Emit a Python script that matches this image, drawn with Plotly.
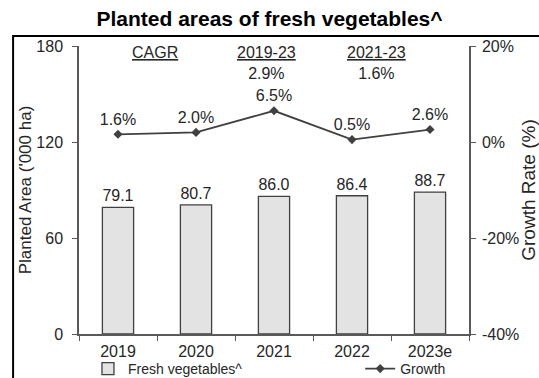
import plotly.graph_objects as go

# Planted area of fresh vegetables ('000 ha) and year-on-year growth
years = ["2019", "2020", "2021", "2022", "2023e"]
area = [79.1, 80.7, 86.0, 86.4, 88.7]
growth = [1.6, 2.0, 6.5, 0.5, 2.6]  # %

left_ticks = [0, 60, 120, 180]
right_ticks = [-40, -20, 0, 20]
right_tick_text = ["-40%", "-20%", "0%", "20%"]

cagr_periods = ["2019-23", "2021-23"]
cagr_values = ["2.9%", "1.6%"]
cagr_xpos = [1.9, 3.32]  # header positions along the category axis

FONT = "Liberation Sans, Arial, sans-serif"
TXT = "#262626"
AX = "#595959"

fig = go.Figure()

fig.add_trace(go.Bar(
    x=years, y=area, name="Fresh vegetables^",
    marker=dict(color="#e3e3e3", line=dict(color="#404040", width=1.3)),
    text=[f"{v:.1f}" for v in area], textposition="outside",
    textfont=dict(size=16, color=TXT, family=FONT),
    cliponaxis=False, legend="legend",
))

fig.add_trace(go.Scatter(
    x=years, y=growth, name="Growth", yaxis="y2",
    mode="lines+markers+text",
    line=dict(color="#404040", width=1.8),
    marker=dict(symbol="diamond", size=7, color="#404040"),
    text=[f"{v:.1f}%" for v in growth], textposition="top center",
    textfont=dict(size=16, color=TXT, family=FONT),
    cliponaxis=False, legend="legend2",
))

# CAGR header row
annotations = [dict(
    x=0.47, y=1.0, xref="x", yref="paper", text="<u>CAGR</u>",
    showarrow=False, yanchor="top", yshift=4,
    font=dict(size=16, color=TXT, family=FONT),
)]
for p, v, xp in zip(cagr_periods, cagr_values, cagr_xpos):
    annotations.append(dict(
        x=xp, y=1.0, xref="x", yref="paper",
        text=f"<u>{p}</u><br>{v}",
        showarrow=False, yanchor="top", yshift=4,
        font=dict(size=16, color=TXT, family=FONT),
    ))

fig.update_layout(
    template="none",
    width=539, height=378,
    margin=dict(l=79, r=70, t=46, b=44, autoexpand=False),
    paper_bgcolor="white", plot_bgcolor="white",
    font=dict(family=FONT, color=TXT, size=15),
    title=dict(
        text="<b>Planted areas of fresh vegetables^</b>",
        x=0.5, xanchor="center", xref="container",
        y=1 - 19 / 378, yanchor="middle", yref="container",
        font=dict(size=21, color="black", family=FONT),
    ),
    bargap=0.6,
    showlegend=True,
    legend=dict(
        orientation="h", x=0.023, xanchor="left",
        y=1 - 353 / 378, yanchor="top", yref="container",
        itemwidth=30, font=dict(size=14, color=TXT, family=FONT),
        bgcolor="rgba(0,0,0,0)",
    ),
    legend2=dict(
        orientation="h", x=0.721, xanchor="left",
        y=1 - 353 / 378, yanchor="top", yref="container",
        itemwidth=30, font=dict(size=14, color=TXT, family=FONT),
        bgcolor="rgba(0,0,0,0)",
    ),
    xaxis=dict(
        type="category", showline=True, linecolor=AX, linewidth=1.5,
        ticks="outside", ticklen=5, tickcolor=AX, tickwidth=1.3,
        tickson="boundaries", showgrid=False, automargin=False,
        ticklabelstandoff=2,
        tickfont=dict(size=16, color=TXT, family=FONT),
    ),
    yaxis=dict(
        range=[0, 180], tickvals=left_ticks, showgrid=False, zeroline=False,
        showline=True, linecolor=AX, linewidth=1.5,
        ticks="outside", ticklen=5, tickcolor=AX, tickwidth=1.3,
        ticklabelstandoff=6,
        tickfont=dict(size=16, color=TXT, family=FONT),
        title=dict(text="Planted Area ('000 ha)", standoff=0,
                   font=dict(size=17, color=TXT, family=FONT)),
        automargin=False,
    ),
    yaxis2=dict(
        range=[-40, 20], tickvals=right_ticks, ticktext=right_tick_text,
        overlaying="y", side="right", showgrid=False, zeroline=False,
        showline=True, linecolor=AX, linewidth=1.5,
        ticks="outside", ticklen=5, tickcolor=AX, tickwidth=1.3,
        ticklabelstandoff=3,
        tickfont=dict(size=16, color=TXT, family=FONT),
        title=dict(text="Growth Rate (%)", standoff=7,
                   font=dict(size=19, color=TXT, family=FONT)),
        automargin=False,
    ),
    annotations=annotations,
    shapes=[dict(
        type="rect", xref="paper", yref="paper",
        x0=-0.169, x1=1.25, y0=-0.25, y1=1.035,
        line=dict(color="black", width=2), fillcolor="rgba(0,0,0,0)",
        layer="above",
    )],
)

fig.write_html("out.html")
